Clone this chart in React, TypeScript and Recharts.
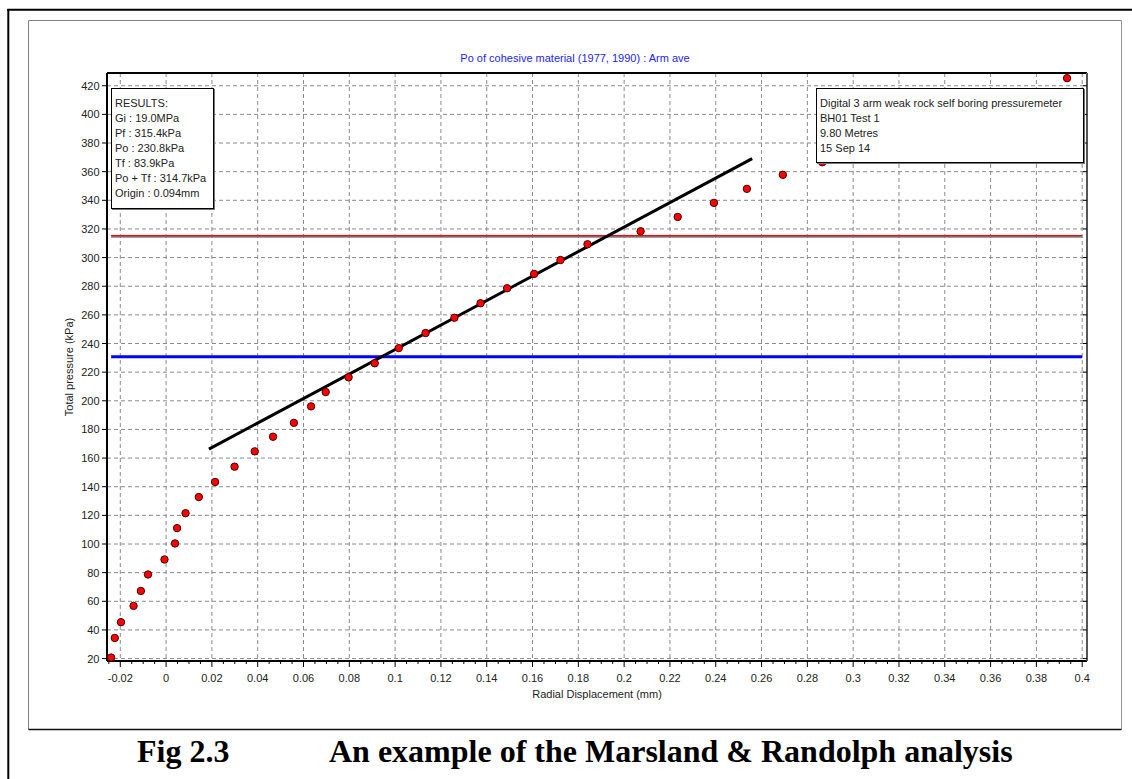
import React from 'react';
import { ScatterChart, Scatter, XAxis, YAxis, CartesianGrid, ReferenceLine } from 'recharts';

// Pressuremeter loading curve: radial displacement (mm) vs total pressure (kPa)
const displacement = [
  -0.024, -0.0224, -0.0197, -0.0142, -0.011, -0.0079, -0.0007, 0.0039, 0.0048, 0.0085,
  0.0143, 0.0214, 0.0299, 0.0387, 0.0467, 0.0558, 0.0633, 0.0697, 0.0797, 0.0911,
  0.1016, 0.1133, 0.1259, 0.1373, 0.1489, 0.1607, 0.1722, 0.184, 0.2072, 0.2234,
  0.2392, 0.2536, 0.2693, 0.2865, 0.3934,
];
const pressure = [
  20.7, 34.4, 45.4, 56.8, 67.2, 78.7, 89.2, 100.4, 111.1, 121.5,
  132.8, 143.3, 154.0, 164.7, 174.9, 184.6, 196.1, 206.1, 216.4, 226.2,
  236.8, 247.3, 258.0, 268.1, 278.6, 288.6, 298.3, 309.3, 318.4, 328.4,
  338.2, 348.0, 357.8, 366.6, 425.3,
];

// Marsland & Randolph fit line end points
const fitX = [0.0187, 0.2559];
const fitY = [166.3, 369.1];

// Derived pressures (kPa)
const poValue = 230.8;
const pfValue = 315.4;
const poPlusTf = 314.7;
const levelStartX = -0.024;
const levelEndX = 0.4;

const xMajorTicks = [
  -0.02, 0, 0.02, 0.04, 0.06, 0.08, 0.1, 0.12, 0.14, 0.16, 0.18, 0.2, 0.22,
  0.24, 0.26, 0.28, 0.3, 0.32, 0.34, 0.36, 0.38, 0.4,
];
const yTicks = [
  20, 40, 60, 80, 100, 120, 140, 160, 180, 200, 220, 240, 260, 280, 300, 320,
  340, 360, 380, 400, 420,
];
const xDomain: [number, number] = [-0.0258, 0.4021];
const yDomain: [number, number] = [18.3, 428.9];

const chartTitle = 'Po of cohesive material (1977, 1990) : Arm ave';
const xTitle = 'Radial Displacement (mm)';
const yTitle = 'Total pressure (kPa)';
const resultsLines = [
  'RESULTS:',
  'Gi : 19.0MPa',
  'Pf : 315.4kPa',
  'Po : 230.8kPa',
  'Tf : 83.9kPa',
  'Po + Tf : 314.7kPa',
  'Origin : 0.094mm',
];
const testInfoLines = [
  'Digital 3 arm weak rock self boring pressuremeter',
  'BH01 Test 1',
  '9.80 Metres',
  '15 Sep 14',
];
const figNumber = 'Fig 2.3';
const figCaption = 'An example of the Marsland & Randolph analysis';

const W = 1132;
const H = 779;
const FONT = '"Liberation Sans", Arial, sans-serif';
const SERIF = '"Liberation Serif", "Times New Roman", serif';

const points = displacement.map((x, i) => ({ x, y: pressure[i] }));

// minor ticks every 0.005 between the major ones
const xMinorTicks: number[] = [];
for (let i = 0; i < xMajorTicks.length; i++) {
  const v = xMajorTicks[i];
  for (let k = -3; k <= 0; k++) {
    const t = Number((v + k * 0.005).toFixed(4));
    if (t >= xDomain[0] && !xMinorTicks.includes(t)) xMinorTicks.push(t);
  }
}

const isMajor = (v: number) => xMajorTicks.some((m) => Math.abs(m - v) < 1e-9);
const fmt = (v: number) => String(Number(v.toFixed(3)));

// vertical grid only at the labelled displacement ticks
const majorGridX = (args: any) => {
  const { xAxis, offset } = args || {};
  if (xAxis && typeof xAxis.scale === 'function') {
    return xMajorTicks.map((v) => xAxis.scale(v));
  }
  return xMajorTicks.map(
    (v) => offset.left + ((v - xDomain[0]) / (xDomain[1] - xDomain[0])) * offset.width,
  );
};

const XTick = (props: any) => {
  const { x, y, payload } = props;
  const v = payload.value as number;
  const major = isMajor(v);
  return (
    <g>
      <line x1={x} x2={x} y1={y} y2={y + (major ? 6 : 3)} stroke="#000" strokeWidth={1} />
      {major && (
        <text x={x} y={y + 21} textAnchor="middle" fontSize={11} fontFamily={FONT} fill="#222">
          {fmt(v)}
        </text>
      )}
    </g>
  );
};

const YTick = (props: any) => {
  const { x, y, payload } = props;
  return (
    <g>
      <line x1={x - 5} x2={x} y1={y} y2={y} stroke="#000" strokeWidth={1} />
      <text x={x - 7.5} y={y + 4} textAnchor="end" fontSize={11} fontFamily={FONT} fill="#222">
        {payload.value}
      </text>
    </g>
  );
};

// inward tick marks on the top frame edge
const TopTick = (props: any) => {
  const { x, y } = props;
  return <line x1={x} x2={x} y1={y} y2={y + 5} stroke="#000" strokeWidth={1} />;
};

// inward tick marks on the right frame edge
const RightTick = (props: any) => {
  const { x, y } = props;
  return <line x1={x - 4} x2={x} y1={y} y2={y} stroke="#000" strokeWidth={1} />;
};

const Dot = (props: any) => {
  const { cx, cy } = props;
  if (cx == null || cy == null) return null;
  return <circle cx={cx} cy={cy} r={3.7} fill="#ff0000" stroke="#4a0000" strokeWidth={1} />;
};

const boxStyle: React.CSSProperties = {
  position: 'absolute',
  background: '#fff',
  border: '1px solid #000',
  boxShadow: '1px 1px 0 #777',
  fontFamily: FONT,
  fontSize: 11,
  lineHeight: '15px',
  color: '#222',
  padding: '7px 0 0 3px',
  boxSizing: 'border-box',
  whiteSpace: 'nowrap',
};

export default function App() {
  return (
    <div style={{ position: 'absolute', left: 0, top: 0, width: W, height: H, background: '#fff' }}>
      <svg width={W} height={H} style={{ position: 'absolute', left: 0, top: 0 }}>
        {/* page border */}
        <line x1={7.3} y1={9.7} x2={W} y2={9.7} stroke="#000" strokeWidth={2} />
        <line x1={8.3} y1={9} x2={8.3} y2={H} stroke="#000" strokeWidth={2} />
        {/* panel border */}
        <line x1={28.5} y1={20.5} x2={1121.5} y2={20.5} stroke="#808080" strokeWidth={1} />
        <line x1={28.5} y1={20.5} x2={28.5} y2={729.5} stroke="#808080" strokeWidth={1} />
        <line x1={1121.5} y1={20.5} x2={1121.5} y2={729.5} stroke="#9a9a9a" strokeWidth={1} />
        <line x1={28.5} y1={729.5} x2={1121.5} y2={729.5} stroke="#111" strokeWidth={1.5} />
        {/* chart title */}
        <text x={575} y={62} textAnchor="middle" fontSize={11} fontFamily={FONT} fill="#2323ff">
          {chartTitle}
        </text>
        {/* figure caption */}
        <text x={137} y={762} fontSize={32} fontWeight="bold" fontFamily={SERIF} fill="#000">
          {figNumber}
        </text>
        <text x={329} y={762} fontSize={32} fontWeight="bold" fontFamily={SERIF} fill="#000">
          {figCaption}
        </text>
      </svg>

      <div style={{ position: 'absolute', left: 0, top: 0 }}>
        <ScatterChart width={W} height={H} margin={{ top: 72, right: 44, bottom: 52, left: 32 }}>
          <CartesianGrid
            xAxisId="bottom"
            yAxisId="left"
            stroke="#8a8a8a"
            strokeDasharray="4 3"
            verticalCoordinatesGenerator={majorGridX}
          />
          <XAxis
            xAxisId="bottom"
            dataKey="x"
            type="number"
            domain={xDomain}
            allowDataOverflow
            ticks={xMinorTicks}
            interval={0}
            tickSize={0}
            tickMargin={0}
            tickLine={false}
            tick={<XTick />}
            height={66}
            axisLine={{ stroke: '#000', strokeWidth: 2 }}
            label={{ value: xTitle, position: 'center', fontSize: 11, fontFamily: FONT, fill: '#222' }}
          />
          <XAxis
            xAxisId="top"
            orientation="top"
            type="number"
            domain={xDomain}
            allowDataOverflow
            ticks={xMajorTicks}
            interval={0}
            height={1}
            tickSize={0}
            tickMargin={0}
            tickLine={false}
            tick={<TopTick />}
            axisLine={{ stroke: '#000', strokeWidth: 2 }}
          />
          <YAxis
            yAxisId="left"
            dataKey="y"
            type="number"
            domain={yDomain}
            allowDataOverflow
            ticks={yTicks}
            interval={0}
            tickSize={0}
            tickMargin={0}
            tickLine={false}
            tick={<YTick />}
            width={75}
            axisLine={{ stroke: '#000', strokeWidth: 2 }}
            label={{ value: yTitle, angle: -90, position: 'center', fontSize: 11, fontFamily: FONT, fill: '#222' }}
          />
          <YAxis
            yAxisId="right"
            orientation="right"
            type="number"
            domain={yDomain}
            allowDataOverflow
            ticks={yTicks}
            interval={0}
            width={1}
            tickSize={0}
            tickMargin={0}
            tickLine={false}
            tick={<RightTick />}
            axisLine={{ stroke: '#555', strokeWidth: 2 }}
          />
          <Scatter
            xAxisId="bottom"
            yAxisId="left"
            data={points}
            shape={<Dot />}
            isAnimationActive={false}
          />
          <ReferenceLine
            xAxisId="bottom"
            yAxisId="left"
            segment={[{ x: levelStartX, y: poValue }, { x: levelEndX, y: poValue }]}
            stroke="#0000ff"
            strokeWidth={3}
          />
          <ReferenceLine
            xAxisId="bottom"
            yAxisId="left"
            segment={[{ x: levelStartX, y: poPlusTf }, { x: levelEndX, y: poPlusTf }]}
            stroke="#808080"
            strokeWidth={2.2}
          />
          <ReferenceLine
            xAxisId="bottom"
            yAxisId="left"
            segment={[{ x: levelStartX, y: pfValue }, { x: levelEndX, y: pfValue }]}
            stroke="#ff0000"
            strokeWidth={1.2}
          />
          <ReferenceLine
            xAxisId="bottom"
            yAxisId="left"
            segment={[{ x: fitX[0], y: fitY[0] }, { x: fitX[1], y: fitY[1] }]}
            stroke="#000"
            strokeWidth={3}
          />
        </ScatterChart>
      </div>

      <div style={{ ...boxStyle, left: 111, top: 88, width: 103, height: 121 }}>
        {resultsLines.map((t) => (
          <div key={t}>{t}</div>
        ))}
      </div>
      <div style={{ ...boxStyle, left: 816, top: 88, width: 268, height: 75 }}>
        {testInfoLines.map((t) => (
          <div key={t}>{t}</div>
        ))}
      </div>
    </div>
  );
}
